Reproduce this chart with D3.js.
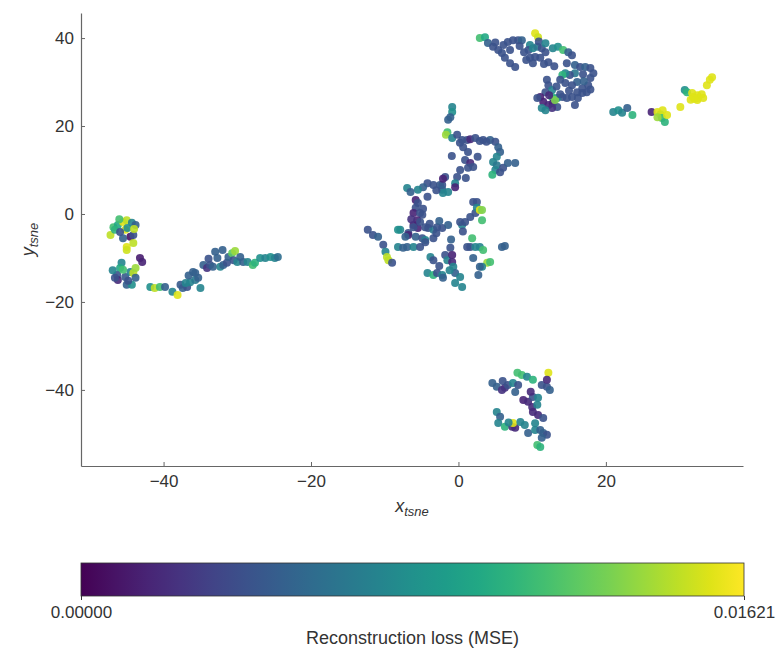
<!DOCTYPE html>
<html>
<head>
<meta charset="utf-8">
<script src="https://cdn.jsdelivr.net/npm/d3@7"></script>
<style>
  html, body { margin: 0; padding: 0; background: #fff; }
  svg { display: block; font-family: "Liberation Sans", Arial, sans-serif; }
</style>
</head>
<body>
<svg id="chart" width="780" height="653"></svg>
<script>
// ---- data: [x_tsne, y_tsne, reconstruction loss] ----
const leftCluster = [
[-46.8,-3.0,.0113],[-46.2,-2.5,.0097],[-45.5,-1.8,.0154],[-45.0,-1.4,.0146],[-44.3,-2.0,.0073],
[-43.8,-2.5,.0049],[-47.2,-4.8,.0146],[-46.6,-3.6,.0105],[-45.2,-3.6,.0154],[-44.5,-5.2,.0008],
[-44.1,-4.8,.0041],[-45.5,-5.5,.0049],[-45.0,-7.5,.0154],[-44.1,-6.6,.0146],[-44.9,-3.2,.0081],
[-45.9,-4.1,.0041],[-45.0,-8.2,.0150],[-43.2,-10.0,.0013],[-42.9,-10.9,.0016],[-45.7,-11.1,.0073],
[-45.9,-12.3,.0097],[-46.3,-13.9,.0041],[-46.2,-15.0,.0019],[-45.2,-14.3,.0045],[-44.5,-13.2,.0073],
[-44.1,-13.4,.0146],[-43.8,-14.5,.0049],[-45.0,-16.1,.0049],[-44.3,-16.1,.0081],[-45.5,-12.7,.0113],
[-46.6,-14.5,.0041],[-43.8,-12.3,.0138],[-41.8,-16.6,.0081],[-41.2,-16.8,.0146],[-40.5,-16.6,.0113],
[-39.8,-16.6,.0049],[-38.8,-17.7,.0073],[-38.1,-18.4,.0154],[-37.4,-16.8,.0049],[-36.8,-16.6,.0041],
[-36.4,-15.5,.0073],[-35.7,-13.4,.0049],[-37.7,-16.1,.0045],[-37.0,-15.7,.0073],[-36.0,-13.2,.0049],
[-35.7,-15.0,.0065],[-35.0,-16.8,.0073],[-35.3,-14.5,.0049],[-34.6,-11.6,.0049],[-34.1,-12.3,.0024],
[-33.7,-11.6,.0041],[-33.3,-12.0,.0049],[-33.0,-8.6,.0049],[-32.7,-10.0,.0049],[-32.3,-12.0,.0073],
[-31.9,-11.6,.0049],[-31.4,-11.1,.0041],[-31.2,-9.8,.0049],[-30.7,-8.9,.0122],[-30.3,-8.4,.0138],
[-30.5,-10.5,.0041],[-30.0,-10.9,.0073],[-29.6,-9.8,.0049],[-29.2,-10.9,.0049],[-28.6,-10.9,.0073],
[-27.9,-11.6,.0113],[-27.6,-11.1,.0105],[-26.9,-10.0,.0081],[-26.2,-10.0,.0073],[-25.5,-9.8,.0081],
[-24.9,-10.0,.0073],[-24.5,-9.8,.0057],[-46.0,-1.2,.0113],[-44.0,-3.4,.0146],[-46.9,-12.8,.0073],
[-44.8,-15.2,.0041],[-33.9,-10.2,.0041],[-32.0,-8.2,.0049],[-36.6,-14.0,.0049]
];
const centerCluster = [
[-0.85,24.3,.0073],[-0.85,23.2,.0081],[-1.1,22.0,.0049],[-1.4,21.4,.0049],[-1.5,18.6,.0113],
[-1.7,18.0,.0138],[-0.85,17.3,.0073],[-0.18,18.0,.0041],[0.5,16.8,.0041],[1.18,16.8,.0041],
[1.6,17.0,.0019],[2.3,17.3,.0041],[2.9,16.6,.0041],[3.35,16.8,.0041],[4.3,16.8,.0049],
[5.0,16.4,.0041],[5.4,15.2,.0049],[5.65,14.1,.0049],[5.2,13.0,.0073],[4.7,11.8,.0073],
[5.2,11.1,.0065],[5.0,10.0,.0073],[4.6,8.9,.0105],[5.65,9.5,.0041],[6.06,10.5,.0041],
[6.7,11.6,.0049],[7.7,11.6,.0049],[0.64,15.2,.0041],[1.3,14.1,.0041],[0.9,12.3,.0041],
[1.6,11.6,.0019],[2.0,10.7,.0041],[1.3,10.5,.0041],[0.23,10.0,.0041],[-0.18,8.4,.0041],
[-0.45,7.0,.0073],[-0.45,6.1,.0016],[-1.8,8.4,.0041],[-2.2,6.6,.0041],[-2.5,6.6,.0045],
[-3.4,6.6,.0041],[-4.2,7.0,.0041],[-4.8,6.1,.0049],[-5.5,5.5,.0073],[-6.96,5.9,.0073],
[-6.5,5.0,.0049],[-2.1,8.0,.0016],[-2.2,5.5,.0049],[-1.4,5.0,.0073],[-2.1,4.8,.0073],
[-5.8,3.2,.0016],[-5.5,2.5,.0041],[-4.2,3.9,.0041],[-5.8,1.4,.0041],[-6.1,0.2,.0016],
[-5.2,0.2,.0041],[-4.9,-0.2,.0041],[-5.6,-1.4,.0016],[-6.1,-2.5,.0016],[-5.5,-3.2,.0016],
[-5.2,-1.8,.0041],[-4.5,-3.0,.0041],[-4.1,-3.2,.0041],[-3.4,-3.6,.0065],[-2.9,-3.0,.0041],
[-2.2,-3.2,.0041],[-1.4,-2.5,.0049],[-6.1,-3.0,.0041],[-6.8,-4.3,.0041],[-7.9,-3.6,.0073],
[-8.2,-3.6,.0081],[-6.8,-4.8,.0016],[-7.2,-5.2,.0049],[-5.8,-5.2,.0049],[-4.9,-5.5,.0041],
[-4.5,-5.9,.0073],[-3.4,-5.5,.0041],[-12.3,-3.6,.0041],[-11.6,-4.8,.0041],[-10.9,-5.2,.0049],
[-10.2,-7.0,.0041],[-9.9,-8.6,.0073],[-9.7,-9.8,.0146],[-9.5,-10.5,.0146],[-9.0,-11.1,.0041],
[-8.2,-7.5,.0073],[-7.5,-7.7,.0049],[-6.96,-7.5,.0049],[-6.1,-7.5,.0073],[-5.2,-7.5,.0041],
[-4.5,-6.4,.0041],[-3.8,-9.8,.0073],[-3.4,-10.5,.0041],[-4.2,-13.4,.0073],[-3.4,-13.9,.0105],
[-2.9,-13.4,.0041],[-2.2,-13.9,.0073],[-2.1,-14.5,.0049],[-1.8,-9.3,.0041],[-1.5,-10.5,.0073],
[-1.1,-7.7,.0041],[-0.85,-9.3,.0016],[-0.85,-10.9,.0019],[-0.7,-12.0,.0073],[-0.45,-13.4,.0049],
[-0.45,-15.7,.0073],[0.23,-14.3,.0073],[0.5,-16.6,.0073],[0.5,-2.5,.0073],[0.23,-1.8,.0041],
[0.9,-1.8,.0041],[1.6,-0.7,.0041],[2.3,0.2,.0041],[2.0,2.7,.0041],[2.5,2.7,.0041],
[2.5,1.4,.0073],[2.9,0.9,.0154],[3.2,0.9,.0130],[3.2,-1.4,.0113],[1.86,-5.5,.0113],
[1.18,-7.5,.0041],[1.6,-7.5,.0041],[2.3,-7.5,.0073],[2.9,-7.5,.0073],[3.35,-8.2,.0113],
[3.9,-11.1,.0138],[3.2,-12.0,.0073],[2.9,-12.0,.0049],[2.7,-13.9,.0049],[4.3,-10.9,.0113],
[5.9,-7.5,.0049],[6.3,-7.3,.0049],[-3.9,-2.2,.0041],[-3.0,-4.4,.0041],[-6.4,-1.2,.0024],
[-4.8,1.2,.0041],[-2.6,-1.6,.0049],[0.6,-4.0,.0041],[-1.0,-5.8,.0049],[2.0,-10.0,.0049],
[-2.6,-11.8,.0041],[-1.2,-12.8,.0073],[3.8,16.4,.0041],[0.2,16.2,.0041],[-0.9,13.2,.0041],
[2.6,13.0,.0041],[-3.0,5.4,.0041],[1.0,8.2,.0041]
];
const topRightCluster = [
[2.9,40.0,.0113],[3.6,40.2,.0097],[4.0,38.9,.0049],[4.7,38.0,.0041],[5.4,37.3,.0041],
[5.9,36.6,.0041],[6.3,35.5,.0041],[7.0,34.3,.0041],[7.7,33.4,.0041],[6.1,38.4,.0041],
[6.7,39.1,.0041],[7.4,39.5,.0041],[8.1,39.5,.0041],[8.6,39.5,.0049],[7.0,37.3,.0041],
[10.4,41.1,.0154],[10.8,40.2,.0150],[9.7,38.4,.0073],[9.5,37.3,.0041],[10.1,37.7,.0073],
[10.7,38.0,.0065],[11.3,37.7,.0041],[11.8,36.8,.0041],[10.4,35.7,.0041],[9.7,35.5,.0041],
[11.1,35.5,.0041],[10.1,34.3,.0041],[12.2,34.5,.0041],[12.8,37.7,.0073],[13.5,38.0,.0081],
[14.2,37.3,.0113],[14.9,36.8,.0049],[15.4,36.1,.0041],[14.7,34.3,.0041],[15.8,33.9,.0049],
[16.5,33.4,.0041],[17.2,33.4,.0049],[17.9,33.2,.0041],[18.3,32.0,.0041],[17.9,30.9,.0041],
[17.6,29.3,.0041],[17.4,27.7,.0041],[16.8,27.5,.0041],[16.2,26.4,.0041],[16.8,28.6,.0041],
[16.1,30.0,.0049],[15.8,32.0,.0065],[15.1,31.6,.0041],[14.5,32.0,.0073],[14.1,31.6,.0105],
[13.8,30.5,.0041],[14.5,29.8,.0041],[15.4,29.3,.0041],[16.1,27.7,.0041],[15.4,26.6,.0041],
[14.7,26.4,.0041],[14.1,26.6,.0041],[13.4,26.4,.0073],[12.7,26.6,.0105],[12.0,30.5,.0041],
[12.2,29.3,.0041],[12.7,28.2,.0073],[11.8,27.7,.0041],[11.1,26.6,.0016],[11.5,25.5,.0016],
[12.2,24.8,.0019],[12.8,25.2,.0016],[13.4,24.3,.0041],[12.7,24.1,.0024],[11.8,23.6,.0073],
[11.3,24.1,.0073],[13.1,25.9,.0130],[10.7,26.4,.0041],[15.8,24.8,.0041],[8.9,36.8,.0041],
[9.2,35.0,.0041],[11.6,34.1,.0041],[13.0,33.6,.0041],[16.9,31.8,.0041],[17.0,30.2,.0049],
[15.0,28.0,.0041],[13.3,29.0,.0041],[12.3,27.0,.0019],[13.8,27.2,.0041],[10.9,39.2,.0041],
[11.8,38.8,.0073],[8.3,38.2,.0041],[5.0,39.0,.0041],[17.9,28.3,.0041]
];
const farRightCluster = [
[21.0,23.2,.0073],[21.7,23.6,.0081],[22.2,23.0,.0073],[22.9,24.1,.0049],[23.6,22.5,.0105],
[26.2,23.2,.0016],[27.0,23.2,.0154],[27.7,23.6,.0154],[27.4,22.6,.0150],[27.6,21.8,.0113],
[28.0,20.9,.0105],[27.0,22.0,.0138],[30.1,24.3,.0154],[30.7,28.2,.0081],[31.0,27.7,.0105],
[31.7,27.5,.0154],[31.8,26.6,.0154],[32.4,27.0,.0154],[32.5,26.4,.0154],[32.4,25.9,.0154],
[33.0,27.2,.0154],[33.7,29.3,.0154],[34.1,30.5,.0154],[34.4,31.1,.0154],[32.0,26.2,.0154],
[33.2,26.4,.0154],[31.5,26.0,.0154],[28.3,22.5,.0154]
];
const bottomCluster = [
[4.6,-38.4,.0049],[5.2,-39.3,.0049],[5.9,-40.0,.0024],[6.3,-39.5,.0024],[6.7,-38.9,.0041],
[7.4,-38.4,.0073],[8.1,-38.9,.0041],[7.7,-40.5,.0049],[8.0,-36.1,.0113],[8.6,-36.6,.0113],
[9.3,-37.0,.0073],[10.1,-37.7,.0105],[11.3,-38.9,.0041],[12.0,-39.3,.0041],[12.4,-40.0,.0049],
[12.2,-36.1,.0154],[12.0,-37.7,.0019],[8.8,-42.3,.0016],[9.45,-42.7,.0019],[10.1,-41.6,.0041],
[10.8,-41.8,.0073],[10.0,-43.9,.0019],[10.1,-45.0,.0019],[10.8,-45.7,.0019],[11.5,-46.4,.0041],
[10.7,-43.4,.0073],[5.2,-45.0,.0073],[5.65,-46.1,.0049],[5.4,-47.5,.0073],[6.3,-48.4,.0105],
[7.3,-48.4,.0019],[7.7,-48.6,.0019],[7.4,-47.5,.0154],[8.4,-47.3,.0073],[9.0,-48.0,.0073],
[9.45,-49.8,.0049],[10.4,-49.1,.0073],[11.1,-49.1,.0049],[11.5,-49.8,.0049],[12.0,-50.2,.0041],
[11.3,-50.9,.0049],[10.7,-52.5,.0113],[11.1,-53.0,.0105],[6.0,-38.0,.0041],[9.8,-40.4,.0019],
[10.4,-47.6,.0073],[6.8,-47.4,.0073]
];
const xTicks = [-40, -20, 0, 20];
const yTicks = [-40, -20, 0, 20, 40];
const lossMin = 0.0, lossMax = 0.01621;
const xDomain = [-51.2, 38.6], yDomain = [-57.3, 45.7];

// ---- drawing ----
(function () {
const svg = d3.select("#chart");
const pLeft = 81, pRight = 743, pTop = 13, pBottom = 466;
const x = d3.scaleLinear().domain(xDomain).range([pLeft, pRight]);
const y = d3.scaleLinear().domain(yDomain).range([pBottom, pTop]);
const color = d3.scaleSequential(d3.interpolateViridis).domain([lossMin, lossMax]);

const allPoints = [].concat(leftCluster, centerCluster, topRightCluster, farRightCluster, bottomCluster);

svg.append("g").selectAll("circle").data(allPoints).join("circle")
  .attr("cx", d => x(d[0])).attr("cy", d => y(d[1])).attr("r", 4)
  .attr("fill", d => color(d[2])).attr("fill-opacity", 0.9);

const axisColor = "#666", textColor = "#333";
const xAxis = svg.append("g").attr("transform", `translate(0,${pBottom})`)
  .call(d3.axisBottom(x).tickValues(xTicks).tickSizeInner(-4).tickSizeOuter(0).tickPadding(9));
const yAxis = svg.append("g").attr("transform", `translate(${pLeft},0)`)
  .call(d3.axisLeft(y).tickValues(yTicks).tickSizeInner(-4).tickSizeOuter(0).tickPadding(7));
[xAxis, yAxis].forEach(g => {
  g.select(".domain").attr("stroke", axisColor).attr("stroke-width", 1.2);
  g.selectAll(".tick line").attr("stroke", axisColor);
  g.selectAll(".tick text").attr("fill", textColor).attr("font-size", 17)
    .attr("font-family", "'Liberation Sans', Arial, sans-serif");
});

const xl = svg.append("text").attr("x", (pLeft + pRight) / 2).attr("y", 512)
  .attr("text-anchor", "middle").attr("fill", textColor).attr("font-size", 18).attr("font-style", "italic");
xl.append("tspan").text("x");
xl.append("tspan").attr("font-size", 13).attr("dy", 4).text("tsne");

const yl = svg.append("text").attr("transform", `translate(34,${(pTop + pBottom) / 2}) rotate(-90)`)
  .attr("text-anchor", "middle").attr("fill", textColor).attr("font-size", 18).attr("font-style", "italic");
yl.append("tspan").text("y");
yl.append("tspan").attr("font-size", 13).attr("dy", 4).text("tsne");

const cbLeft = 81, cbRight = 744, cbTop = 563, cbBottom = 596;
const grad = svg.append("defs").append("linearGradient").attr("id", "viridis")
  .attr("x1", "0%").attr("x2", "100%").attr("y1", "0%").attr("y2", "0%");
d3.range(0, 1.0001, 0.05).forEach(t => {
  grad.append("stop").attr("offset", (t * 100) + "%").attr("stop-color", d3.interpolateViridis(t));
});
svg.append("rect").attr("x", cbLeft).attr("y", cbTop).attr("width", cbRight - cbLeft).attr("height", cbBottom - cbTop)
  .attr("fill", "url(#viridis)").attr("stroke", "#333").attr("stroke-width", 0.8);
const cbScale = d3.scaleLinear().domain([lossMin, lossMax]).range([cbLeft, cbRight]);
const cbAxis = svg.append("g").attr("transform", `translate(0,${cbBottom})`)
  .call(d3.axisBottom(cbScale).tickValues([lossMin, lossMax]).tickFormat(d3.format(".5f")).tickSizeInner(4).tickSizeOuter(0).tickPadding(6));
cbAxis.select(".domain").remove();
cbAxis.selectAll(".tick line").attr("stroke", "#333");
cbAxis.selectAll(".tick text").attr("fill", textColor).attr("font-size", 17)
  .attr("font-family", "'Liberation Sans', Arial, sans-serif");
svg.append("text").attr("x", (cbLeft + cbRight) / 2).attr("y", 644).attr("text-anchor", "middle")
  .attr("fill", textColor).attr("font-size", 18).text("Reconstruction loss (MSE)");
})();
</script>
</body>
</html>
